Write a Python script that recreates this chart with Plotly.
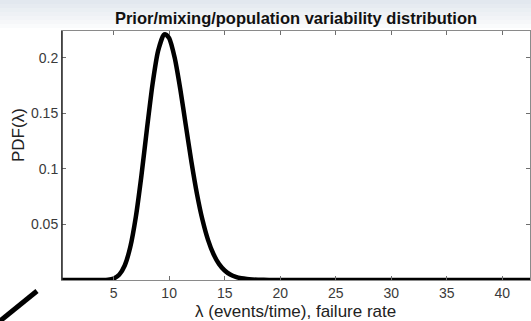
import plotly.graph_objects as go

# values
lam = [0.3, 2.0, 3.0, 4.0, 4.5, 5.0, 5.5, 6.0, 6.5, 7.0, 7.5, 8.0, 8.5, 9.0, 9.5, 9.67,
       10.0, 10.5, 11.0, 11.5, 12.0, 12.5, 13.0, 13.5, 14.0, 14.5, 15.0, 15.5, 16.0,
       16.5, 17.0, 17.5, 18.0, 19.0, 20.0, 25.0, 30.0, 35.0, 40.0, 42.6]
pdf = [0.0, 0.0, 0.0, 0.00004, 0.00028, 0.00133, 0.00469, 0.01307, 0.0297, 0.05687,
       0.09381, 0.13603, 0.17607, 0.20614, 0.22065, 0.2213, 0.21791, 0.20014, 0.17212,
       0.13938, 0.10685, 0.07787, 0.05421, 0.03613, 0.02314, 0.01429, 0.00852, 0.00492,
       0.00276, 0.0015, 0.0008, 0.00041, 0.00021, 0.00005, 0.0, 0.0, 0.0, 0.0, 0.0, 0.0]

x_ticks = [5, 10, 15, 20, 25, 30, 35, 40]
y_ticks = [0.05, 0.1, 0.15, 0.2]
y_tick_labels = ["0.05", "0.1", "0.15", "0.2"]

title = "Prior/mixing/population variability distribution"
x_label = "λ (events/time), failure rate"
y_label = "PDF(λ)"

W, H = 531, 321
L, R, T, B = 62, 1, 31, 41
pw, ph = W - L - R, H - T - B

def px(xp):
    return (xp - L) / pw

def py(yp):
    return (H - B - yp) / ph

fig = go.Figure()
fig.add_trace(go.Scatter(x=lam, y=pdf, mode="lines",
                         line=dict(color="black", width=4.5, shape="spline", smoothing=0.6),
                         hoverinfo="skip", showlegend=False))

font = "Liberation Sans, Arial, sans-serif"
axis_common = dict(showgrid=False, zeroline=False, showline=True, linecolor="#8a8a8a",
                   linewidth=1, mirror="ticks", ticks="inside", ticklen=4,
                   tickcolor="#6e6e6e", tickfont=dict(family=font, size=14, color="#3a3a3a"))

shapes = []
# faint slide-background gradient at the top
band_cols = ["#e2e8ef", "#e6ebf1", "#eaeff3", "#eef1f5", "#f2f4f7", "#f6f7f9", "#fafbfc"]
for i, c in enumerate(band_cols):
    shapes.append(dict(type="rect", xref="paper", yref="paper",
                       x0=px(0), x1=px(W), y0=py(i * 4 + 4), y1=py(i * 4),
                       fillcolor=c, line=dict(width=0), layer="below"))
# darker left spine
shapes.append(dict(type="line", xref="paper", yref="paper", x0=0, x1=0, y0=0, y1=1,
                   line=dict(color="#2a2a2a", width=1.5), layer="above"))
# decorative diagonal stroke at bottom left
shapes.append(dict(type="line", xref="paper", yref="paper",
                   x0=px(0), y0=py(321), x1=px(37), y1=py(291),
                   line=dict(color="black", width=5), layer="above"))

annotations = [
    dict(text=x_label, xref="paper", yref="paper", x=px(295.5), y=py(311.5),
         xanchor="center", yanchor="middle", showarrow=False,
         font=dict(family=font, size=17, color="#222222")),
    dict(text=y_label, xref="paper", yref="paper", x=px(18.5), y=py(135.5),
         xanchor="center", yanchor="middle", showarrow=False, textangle=-90,
         font=dict(family=font, size=17, color="#222222")),
]

fig.update_layout(
    width=W, height=H,
    margin=dict(l=L, r=R, t=T, b=B),
    paper_bgcolor="white", plot_bgcolor="white",
    title=dict(text="<b>" + title + "</b>", x=0.5, xref="paper",
               xanchor="center", y=1 - 18.5 / H, yanchor="middle",
               font=dict(family=font, size=16.5, color="#111111")),
    xaxis=dict(range=[0.35, 42.5], tickvals=x_ticks, **axis_common),
    yaxis=dict(range=[0, 0.2243], tickvals=y_ticks, ticktext=y_tick_labels, **axis_common),
    shapes=shapes,
    annotations=annotations,
)

fig.write_html("out.html")
